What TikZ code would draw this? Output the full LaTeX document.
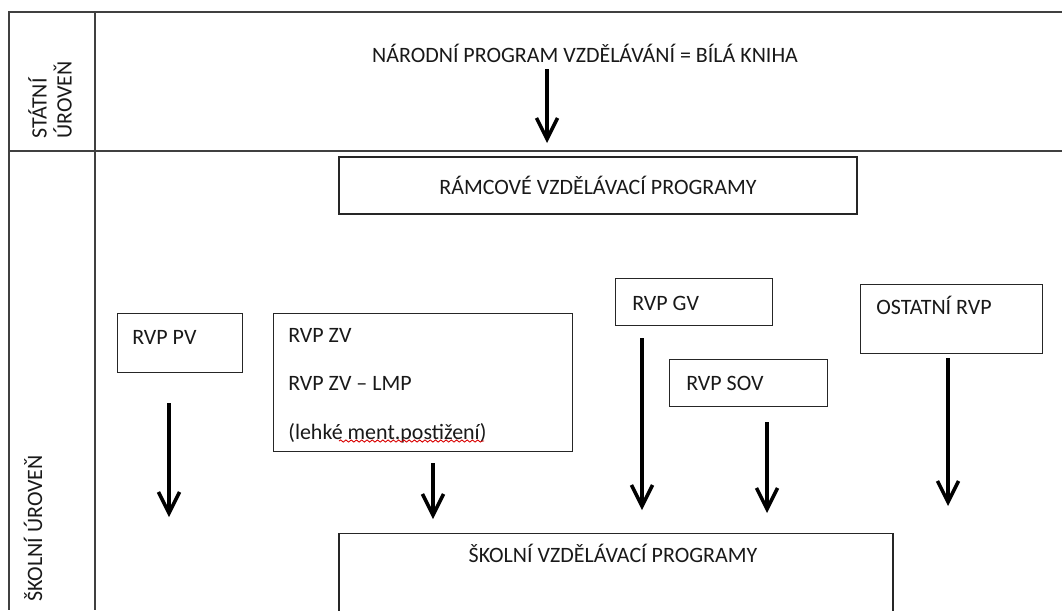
\documentclass[tikz,border=0pt]{standalone}
\usepackage{fontspec}
\setmainfont{Carlito}
\usetikzlibrary{arrows.meta,decorations.pathmorphing}
\newdimen\pxu \pxu=0.02cm

\begin{document}
\begin{tikzpicture}[x=0.02cm,y=-0.02cm,
	frame/.style={line width=1.2pt,draw=black!75},
	box/.style={draw=black!85,line width=0.8pt,inner sep=0pt},
	lvl/.style={inner sep=0pt,text=black!90,font=\fontsize{12.5}{14.2}\selectfont},
	txt/.style={lvl,text height=8pt,text depth=0pt},
	arr/.style={line width=2.2pt,-{Straight Barb[length=12pt,width=12pt,line width=2pt]}}]
		\clip (0,0) rectangle (1062,610);
		%
		\draw[frame] (1062,12) -- (9,12) -- (9,610);
		\draw[frame] (95,12) -- (95,610);
		\draw[frame] (9,151) -- (1062,151);
		\node[lvl,rotate=90,align=left] (statni) at (50,100) {STÁTNÍ\\ÚROVEŇ};
		\node[lvl,rotate=90,anchor=west] (skolni) at (33,602) {ŠKOLNÍ ÚROVEŇ};
		%
		\node[txt] (npv) at (585,55) {NÁRODNÍ PROGRAM VZDĚLÁVÁNÍ = BÍLÁ KNIHA};
		\node[box,lvl,minimum width=518\pxu,minimum height=57\pxu] (rvp) at (598,185.5) {RÁMCOVÉ VZDĚLÁVACÍ PROGRAMY};
		%
		\node[box,minimum width=125\pxu,minimum height=59\pxu,anchor=north west] (pv) at (117,313) {};
		\node[txt,anchor=west] (pv-t) at (132,337) {RVP PV};
		\node[box,minimum width=299\pxu,minimum height=138\pxu,anchor=north west] (zv) at (273,313) {};
		\node[txt,anchor=west] (zv-t1) at (288,335) {RVP ZV};
		\node[txt,anchor=west] (zv-t2) at (288,383) {RVP ZV -- LMP};
		\node[txt,anchor=west] (zv-t3) at (288,432) {(lehké ment.postižení)};
		\node[box,minimum width=157\pxu,minimum height=47\pxu,anchor=north west] (gv) at (615,278) {};
		\node[txt,anchor=west] (gv-t) at (632,303) {RVP GV};
		\node[box,minimum width=158\pxu,minimum height=47\pxu,anchor=north west] (sov) at (669,359) {};
		\node[txt,anchor=west] (sov-t) at (686,383) {RVP SOV};
		\node[box,minimum width=182\pxu,minimum height=69\pxu,anchor=north west] (ost) at (860,284) {};
		\node[txt,anchor=west] (ost-t) at (876,307) {OSTATNÍ RVP};
		%
		\node[box,minimum width=554\pxu,minimum height=120\pxu,anchor=north] (svp) at (616,533) {};
		\node[txt] (svp-t) at (613,555) {ŠKOLNÍ VZDĚLÁVACÍ PROGRAMY};
		%
		\draw[red!85!black,line width=0.5pt,decorate,decoration={snake,amplitude=0.6pt,segment length=3pt}]
			(339,441) -- (484,441);
		%
		\foreach \n/\x/\ya/\yb in {npv/547/69/143,pv/169/403/517,zv/433/463/519,gv/642/338/510,sov/767/422/513,ost/948/358/506}{
			\coordinate (\n-a) at (\x,\ya);
			\coordinate (\n-b) at (\x,\yb);
			\draw[arr] (\n-a) -- (\n-b);
		}
	\end{tikzpicture}
\end{document}
